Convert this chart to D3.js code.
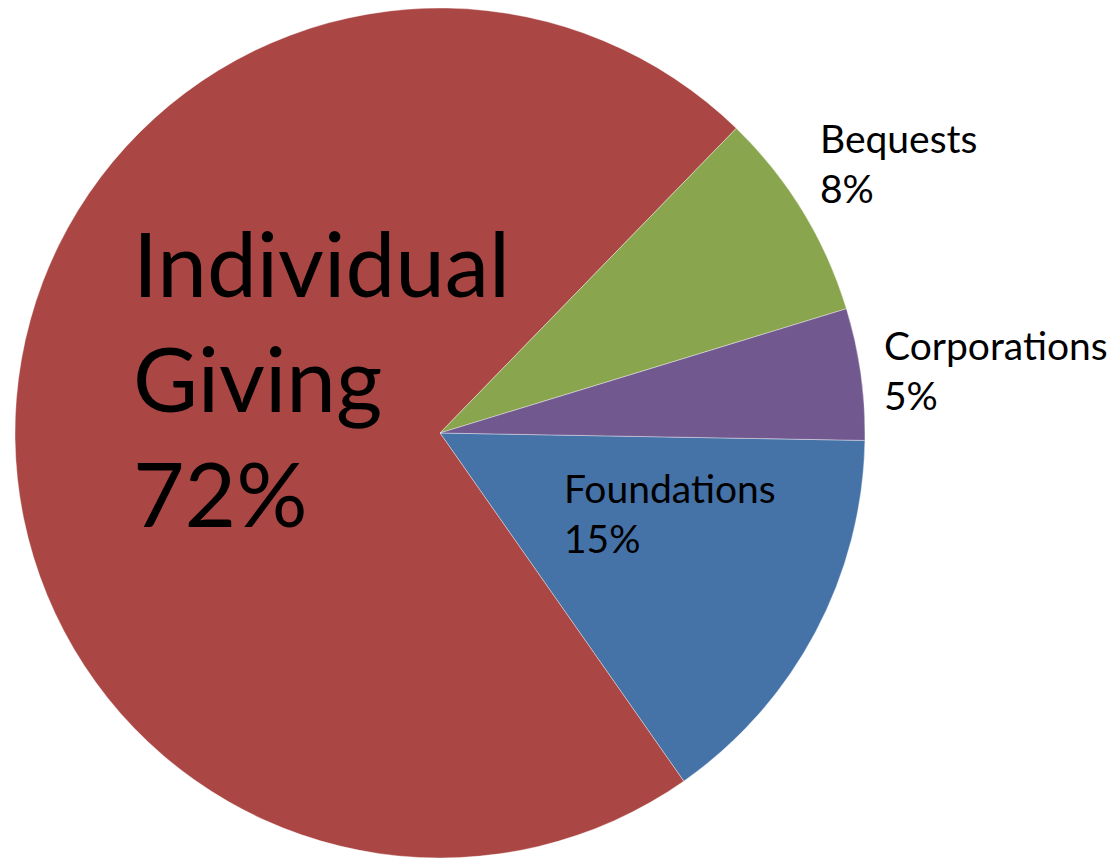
<!DOCTYPE html>
<html>
<head>
<meta charset="utf-8">
<script src="https://cdn.jsdelivr.net/npm/d3@7"></script>
<style>
  body { margin: 0; background: #fff; }
  text { font-family: Lato, "Open Sans", sans-serif; fill: #000; }
</style>
</head>
<body>
<svg></svg>
<script>
// slice data, in the order the chart draws them (clockwise)
var categories = ["Foundations", "Individual Giving", "Bequests", "Corporations"];
var shares = [15, 72, 8, 5];
var colours = ["#4572A7", "#AA4643", "#89A54E", "#71588F"];

var width = 1113;
var height = 858;

var svg = d3.select("svg")
            .attr("width", width)
            .attr("height", height);

var cx = 440, cy = 433, radius = 425;

// first slice starts just past 3 o'clock, like the original
var pie = d3.pie()
            .sort(null)
            .value(function(d) { return d.value; })
            .startAngle(91 * Math.PI / 180)
            .endAngle(91 * Math.PI / 180 + 2 * Math.PI);

var arc = d3.arc()
            .innerRadius(0)
            .outerRadius(radius);

var data = categories.map(function(c, i) {
  return { name: c, value: shares[i], colour: colours[i] };
});

var g = svg.append("g")
           .attr("transform", "translate(" + cx + "," + cy + ")");

g.selectAll("path")
 .data(pie(data))
 .enter()
 .append("path")
 .attr("d", arc)
 .attr("fill", function(d) { return d.data.colour; })
 .attr("stroke", "#ffffff")
 .attr("stroke-opacity", 0.5)
 .attr("stroke-width", 0.75);

// label boxes: left x, first baseline, line gap, font size
var labelSpots = {
  "Foundations":       { x: 564, y: 503, gap: 50, size: 39 },
  "Individual Giving": { x: 133, y: 297, gap: 115, size: 89 },
  "Bequests":          { x: 820, y: 153, gap: 50, size: 39 },
  "Corporations":      { x: 884, y: 360, gap: 50, size: 39 }
};

data.forEach(function(d) {
  var spot = labelSpots[d.name];
  var lines = d.name.split(" ");
  lines.push(d.value + "%");
  var t = svg.append("text")
             .attr("x", spot.x)
             .attr("y", spot.y)
             .style("font-size", spot.size + "px");
  lines.forEach(function(line, i) {
    t.append("tspan")
     .attr("x", spot.x)
     .attr("y", spot.y + i * spot.gap)
     .text(line);
  });
});
</script>
</body>
</html>
